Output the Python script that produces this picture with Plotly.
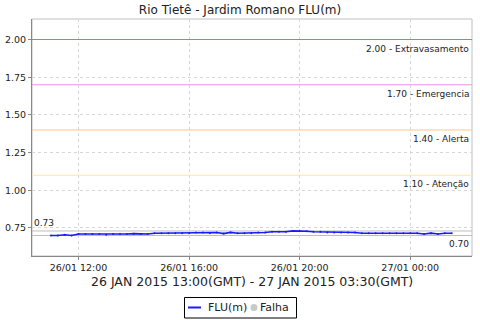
import plotly.graph_objects as go
import pandas as pd

# ---- data ----
times = pd.date_range("2015-01-26 11:00", "2015-01-27 01:30", freq="15min")
flu = [0.70, 0.70, 0.705, 0.70, 0.71, 0.71, 0.71, 0.71, 0.705, 0.71,
       0.71, 0.71, 0.712, 0.71, 0.71, 0.715, 0.715, 0.715, 0.715, 0.715,
       0.715, 0.72, 0.72, 0.715, 0.72, 0.713, 0.72, 0.715, 0.715, 0.715,
       0.72, 0.72, 0.725, 0.725, 0.725, 0.73, 0.73, 0.728, 0.725, 0.725,
       0.72, 0.72, 0.72, 0.72, 0.72, 0.715, 0.715, 0.715, 0.715, 0.715,
       0.715, 0.715, 0.715, 0.715, 0.71, 0.715, 0.71, 0.715, 0.715]

threshold_values = [2.00, 1.70, 1.40, 1.10]
threshold_labels = ["2.00 - Extravasamento", "1.70 - Emergencia", "1.40 - Alerta", "1.10 - Atenção"]
threshold_colors = ["#e26a6a", "#ee90ee", "#ffc887", "#ffe89a"]

max_val, min_val = 0.73, 0.70
x_ticks = ["2015-01-26 12:00", "2015-01-26 16:00", "2015-01-26 20:00", "2015-01-27 00:00"]
x_ticklabels = ["26/01 12:00", "26/01 16:00", "26/01 20:00", "27/01 00:00"]
y_ticks = [0.75, 1.00, 1.25, 1.50, 1.75, 2.00]

title = "Rio Tietê - Jardim Romano FLU(m)"
subtitle = "26 JAN 2015 13:00(GMT) - 27 JAN 2015 03:30(GMT)"
legend_names = ["FLU(m)", "Falha"]

FONT = "DejaVu Sans"
L, R, T, B = 32, 472, 19, 256  # plot area in pixels


def px(x):
    return (x - L) / (R - L)


def py(y):
    return (B - y) / (B - T)


fig = go.Figure()

fig.add_trace(go.Scatter(
    x=times, y=flu, mode="lines+markers", name=legend_names[0],
    line=dict(color="#1a1aff", width=1.7),
    marker=dict(size=2, color="#1a1aff"),
))

shapes = []
annotations = []
for v, lab, c in zip(threshold_values, threshold_labels, threshold_colors):
    shapes.append(dict(type="line", xref="paper", yref="y", x0=0, x1=1, y0=v, y1=v,
                       line=dict(color=c, width=1.1), layer="above"))
    annotations.append(dict(xref="paper", yref="y", x=0.998, y=v, text=lab,
                            showarrow=False, xanchor="right", yanchor="middle", yshift=-9,
                            font=dict(family=FONT, size=9, color="#222")))

for v in (max_val, min_val):
    shapes.append(dict(type="line", xref="paper", yref="y", x0=0, x1=1, y0=v, y1=v,
                       line=dict(color="#bdbdbd", width=1), layer="below"))
annotations.append(dict(xref="paper", yref="y", x=0.0, y=max_val, text=f"{max_val:.2f}",
                        showarrow=False, xanchor="left", yanchor="middle", yshift=8,
                        font=dict(family=FONT, size=9, color="#222")))
annotations.append(dict(xref="paper", yref="y", x=0.998, y=min_val, text=f"{min_val:.2f}",
                        showarrow=False, xanchor="right", yanchor="middle", yshift=-8.5,
                        font=dict(family=FONT, size=9, color="#222")))

# border (top/right light)
shapes.append(dict(type="rect", xref="paper", yref="paper", x0=0, x1=1, y0=0, y1=1,
                   line=dict(color="#c0c0c0", width=1), layer="below"))

annotations.append(dict(xref="paper", yref="paper", x=0.5, y=py(281), text=subtitle,
                        showarrow=False, xanchor="center", yanchor="middle",
                        font=dict(family=FONT, size=12.5, color="#222")))

# legend drawn manually (box, line sample, circle sample, labels)
shapes.append(dict(type="rect", xref="paper", yref="paper", x0=px(184.5), x1=px(296.5),
                   y0=py(318), y1=py(297.5), line=dict(color="black", width=1),
                   fillcolor="white", layer="above"))
shapes.append(dict(type="line", xref="paper", yref="paper", x0=px(188), x1=px(201),
                   y0=py(307.5), y1=py(307.5), line=dict(color="#1a1aff", width=2)))
shapes.append(dict(type="circle", xref="paper", yref="paper", x0=px(250.5), x1=px(257.5),
                   y0=py(311), y1=py(304), line=dict(color="#c8c8c8", width=0),
                   fillcolor="#c8c8c8"))
annotations.append(dict(xref="paper", yref="paper", x=px(206), y=py(307.5), text=legend_names[0],
                        showarrow=False, xanchor="left", yanchor="middle",
                        font=dict(family=FONT, size=11, color="#222")))
annotations.append(dict(xref="paper", yref="paper", x=px(258), y=py(307.5), text=legend_names[1],
                        showarrow=False, xanchor="left", yanchor="middle",
                        font=dict(family=FONT, size=11, color="#222")))

fig.update_layout(
    width=480, height=320,
    margin=dict(l=L, r=480 - R, t=T, b=320 - B, autoexpand=False),
    paper_bgcolor="white", plot_bgcolor="white",
    title=dict(text=title, x=(240 - L) / (R - L), xref="paper", xanchor="center",
               y=(320 - 9.5) / 320, yanchor="middle",
               font=dict(family=FONT, size=12, color="#222")),
    font=dict(family=FONT, size=9.5, color="#222"),
    showlegend=False,
    shapes=shapes, annotations=annotations,
)
fig.update_xaxes(
    range=["2015-01-26 10:19", "2015-01-27 02:14"],
    tickvals=x_ticks, ticktext=x_ticklabels,
    showgrid=True, gridcolor="#d6d6d6", griddash="3px,3px", gridwidth=1,
    showline=True, linecolor="#888", linewidth=1,
    ticks="outside", ticklen=3, tickcolor="#888",
    zeroline=False, tickfont=dict(family=FONT, size=9.5, color="#222"),
)
fig.update_yaxes(
    range=[0.564, 2.136],
    tickvals=y_ticks, ticktext=[f"{v:.2f}" for v in y_ticks],
    showgrid=True, gridcolor="#d6d6d6", griddash="3px,3px", gridwidth=1,
    showline=True, linecolor="#888", linewidth=1,
    ticks="outside", ticklen=3, tickcolor="#888",
    zeroline=False, tickfont=dict(family=FONT, size=9.5, color="#222"),
)

fig.write_html("out.html")
